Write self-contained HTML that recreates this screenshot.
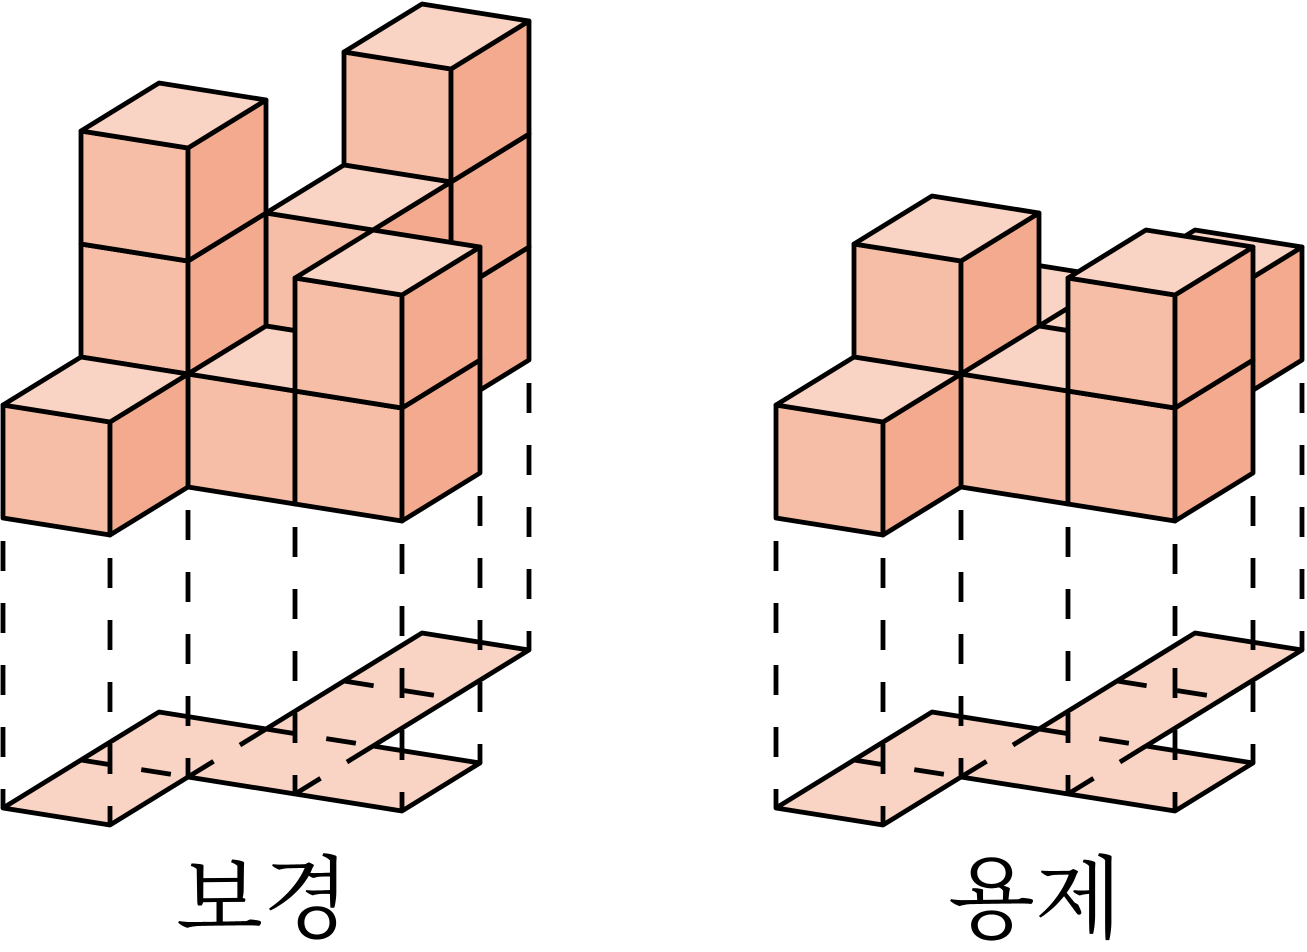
<!DOCTYPE html>
<html><head><meta charset="utf-8"><style>
html,body{margin:0;padding:0;background:#fff;}
svg{display:block;}
.f{fill:#f6bea6}.r{fill:#f3aa8e}.t{fill:#f9d3c3}
polygon,polyline,line{stroke:#000;stroke-width:4.8;stroke-linejoin:round;stroke-linecap:butt}
.d{stroke-dasharray:30 32;stroke-dashoffset:39}
.h{stroke-dasharray:30 31}
text{font-family:"Noto Serif CJK SC","Noto Sans CJK KR",serif;font-size:90px;fill:#000;text-anchor:middle}
</style></head><body>
<svg width="1307" height="952" viewBox="0 0 1307 952" xmlns="http://www.w3.org/2000/svg">
<defs>
<g id="floor">
<polygon class="t" points="3,808 110,825 188,777 402,811 480,763 373,746 529,650 422,633 266,729 159,712"/>
<line class="h" x1="81" y1="760" x2="188" y2="777"/>
<line class="h" x1="188" y1="777" x2="266" y2="729"/>
<line class="h" x1="266" y1="729" x2="373" y2="746"/>
<line class="h" x1="295" y1="794" x2="373" y2="746"/>
<line class="h" x1="344" y1="681" x2="451" y2="698"/>
</g>
</defs>

<use href="#floor"/>
<line class="d" x1="3" y1="518" x2="3" y2="808"/>
<line class="d" x1="110" y1="535" x2="110" y2="825"/>
<line class="d" x1="188" y1="487" x2="188" y2="777"/>
<line class="d" x1="295" y1="504" x2="295" y2="794"/>
<line class="d" x1="402" y1="521" x2="402" y2="811"/>
<line class="d" x1="480" y1="473" x2="480" y2="763"/>
<line class="d" x1="529" y1="360" x2="529" y2="650"/>

<polygon class="f" points="344,391 451,408 451,295 344,278"/><polygon class="r" points="451,408 529,360 529,247 451,295"/><polygon class="t" points="344,278 451,295 529,247 422,230"/>
<polygon class="f" points="344,278 451,295 451,182 344,165"/><polygon class="r" points="451,295 529,247 529,134 451,182"/><polygon class="t" points="344,165 451,182 529,134 422,117"/>
<polygon class="f" points="344,165 451,182 451,69 344,52"/><polygon class="r" points="451,182 529,134 529,21 451,69"/><polygon class="t" points="344,52 451,69 529,21 422,4"/>
<polygon class="f" points="266,439 373,456 373,343 266,326"/><polygon class="r" points="373,456 451,408 451,295 373,343"/><polygon class="t" points="266,326 373,343 451,295 344,278"/>
<polygon class="f" points="266,326 373,343 373,230 266,213"/><polygon class="r" points="373,343 451,295 451,182 373,230"/><polygon class="t" points="266,213 373,230 451,182 344,165"/>
<polygon class="f" points="81,470 188,487 188,374 81,357"/><polygon class="r" points="188,487 266,439 266,326 188,374"/><polygon class="t" points="81,357 188,374 266,326 159,309"/>
<polygon class="f" points="81,357 188,374 188,261 81,244"/><polygon class="r" points="188,374 266,326 266,213 188,261"/><polygon class="t" points="81,244 188,261 266,213 159,196"/>
<polygon class="f" points="81,244 188,261 188,148 81,131"/><polygon class="r" points="188,261 266,213 266,100 188,148"/><polygon class="t" points="81,131 188,148 266,100 159,83"/>
<polygon class="f" points="188,487 295,504 295,391 188,374"/><polygon class="r" points="295,504 373,456 373,343 295,391"/><polygon class="t" points="188,374 295,391 373,343 266,326"/>
<polygon class="f" points="295,504 402,521 402,408 295,391"/><polygon class="r" points="402,521 480,473 480,360 402,408"/><polygon class="t" points="295,391 402,408 480,360 373,343"/>
<polygon class="f" points="295,391 402,408 402,295 295,278"/><polygon class="r" points="402,408 480,360 480,247 402,295"/><polygon class="t" points="295,278 402,295 480,247 373,230"/>
<polygon class="f" points="3,518 110,535 110,422 3,405"/><polygon class="r" points="110,535 188,487 188,374 110,422"/><polygon class="t" points="3,405 110,422 188,374 81,357"/>

<use href="#floor" transform="translate(773,0)"/>
<line class="d" x1="776" y1="518" x2="776" y2="808"/>
<line class="d" x1="883" y1="535" x2="883" y2="825"/>
<line class="d" x1="961" y1="487" x2="961" y2="777"/>
<line class="d" x1="1068" y1="504" x2="1068" y2="794"/>
<line class="d" x1="1175" y1="521" x2="1175" y2="811"/>
<line class="d" x1="1253" y1="473" x2="1253" y2="763"/>
<line class="d" x1="1302" y1="360" x2="1302" y2="650"/>

<polygon class="f" points="1117,391 1224,408 1224,295 1117,278"/><polygon class="r" points="1224,408 1302,360 1302,247 1224,295"/><polygon class="t" points="1117,278 1224,295 1302,247 1195,230"/>
<polygon class="f" points="932,422 1039,439 1039,326 932,309"/><polygon class="r" points="1039,439 1117,391 1117,278 1039,326"/><polygon class="t" points="932,309 1039,326 1117,278 1010,261"/>
<polygon class="f" points="1039,439 1146,456 1146,343 1039,326"/><polygon class="r" points="1146,456 1224,408 1224,295 1146,343"/><polygon class="t" points="1039,326 1146,343 1224,295 1117,278"/>
<polygon class="f" points="854,470 961,487 961,374 854,357"/><polygon class="r" points="961,487 1039,439 1039,326 961,374"/><polygon class="t" points="854,357 961,374 1039,326 932,309"/>
<polygon class="f" points="854,357 961,374 961,261 854,244"/><polygon class="r" points="961,374 1039,326 1039,213 961,261"/><polygon class="t" points="854,244 961,261 1039,213 932,196"/>
<polygon class="f" points="961,487 1068,504 1068,391 961,374"/><polygon class="r" points="1068,504 1146,456 1146,343 1068,391"/><polygon class="t" points="961,374 1068,391 1146,343 1039,326"/>
<polygon class="f" points="1068,504 1175,521 1175,408 1068,391"/><polygon class="r" points="1175,521 1253,473 1253,360 1175,408"/><polygon class="t" points="1068,391 1175,408 1253,360 1146,343"/>
<polygon class="f" points="1068,391 1175,408 1175,295 1068,278"/><polygon class="r" points="1175,408 1253,360 1253,247 1175,295"/><polygon class="t" points="1068,278 1175,295 1253,247 1146,230"/>
<polygon class="f" points="776,518 883,535 883,422 776,405"/><polygon class="r" points="883,535 961,487 961,374 883,422"/><polygon class="t" points="776,405 883,422 961,374 854,357"/>

<text x="263" y="930">보경</text>
<text x="1035" y="930">용제</text>
</svg>
</body></html>
